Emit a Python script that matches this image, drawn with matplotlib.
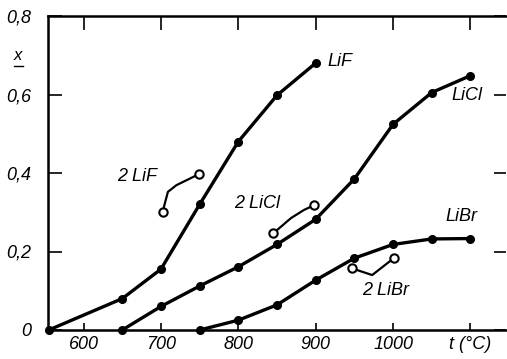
import matplotlib
matplotlib.use("Agg")
import matplotlib.pyplot as plt

# main curves (t in degC, x)
t_lif = [555, 650, 700, 750, 800, 850, 900]
x_lif = [0.0, 0.08, 0.155, 0.32, 0.48, 0.598, 0.68]

t_licl = [650, 700, 750, 800, 850, 900, 950, 1000, 1050, 1100]
x_licl = [0.0, 0.06, 0.112, 0.161, 0.218, 0.282, 0.385, 0.524, 0.605, 0.648]

t_libr = [750, 800, 850, 900, 950, 1000, 1050, 1100]
x_libr = [0.0, 0.025, 0.064, 0.127, 0.183, 0.218, 0.232, 0.233]

# "2 LiX" short curves
t_2lif = [702, 709, 720, 749]
x_2lif = [0.300, 0.352, 0.369, 0.397]
t_2licl = [845, 868, 885, 898]
x_2licl = [0.246, 0.285, 0.306, 0.318]
t_2libr = [947, 973, 1001]
x_2libr = [0.157, 0.140, 0.183]

xticks = [600, 700, 800, 900, 1000, 1100]
xticklabels = ["600", "700", "800", "900", "1000", "t (°C)"]
yticks = [0, 0.2, 0.4, 0.6, 0.8]
yticklabels = ["0", "0,2", "0,4", "0,6", "0,8"]

plt.rcParams['font.family'] = ['Liberation Sans', 'DejaVu Sans']
plt.rcParams['font.style'] = 'italic'

fig = plt.figure(figsize=(5.07, 3.59), dpi=100)
ax = fig.add_axes([48/507, 29/359, 458/507, 314/359])

for t, x in [(t_lif, x_lif), (t_licl, x_licl), (t_libr, x_libr)]:
    ax.plot(t, x, color='black', lw=2.4, marker='o', ms=5.5, clip_on=False,
            solid_capstyle='round')

for t, x in [(t_2lif, x_2lif), (t_2licl, x_2licl), (t_2libr, x_2libr)]:
    ax.plot(t, x, color='black', lw=1.6)
    ax.plot([t[0], t[-1]], [x[0], x[-1]], ls='none', marker='o', ms=6,
            mfc='white', mec='black', mew=1.5)

fs = 13
ax.text(915, 0.683, "LiF", fontsize=fs, va='center')
ax.text(1076, 0.598, "LiCl", fontsize=fs, va='center')
ax.text(1068, 0.29, "LiBr", fontsize=fs, va='center')
ax.text(643, 0.39, "2 LiF", fontsize=fs, va='center')
ax.text(795, 0.323, "2 LiCl", fontsize=fs, va='center')
ax.text(960, 0.10, "2 LiBr", fontsize=fs, va='center')

ax.set_xlim(554, 1146)
ax.set_ylim(0, 0.8)
ax.set_xticks(xticks)
ax.set_xticklabels(xticklabels, fontsize=fs)
ax.set_yticks(yticks)
ax.set_yticklabels(yticklabels, fontsize=fs)
ax.tick_params(axis='x', direction='in', length=5, width=1.2, top=True, pad=4)
ax.tick_params(axis='x', which='major', top=True)
ax.tick_params(axis='y', direction='in', length=10, width=1.2, right=True, pad=12)
ax.xaxis.set_tick_params(which='major', length=5)
for tl in ax.xaxis.get_major_ticks():
    tl.tick2line.set_markersize(10)
for tl in ax.yaxis.get_major_ticks():
    tl.tick2line.set_markersize(9)

for s in ['left', 'bottom', 'top']:
    ax.spines[s].set_linewidth(1.8)
ax.spines['right'].set_visible(False)

# underlined x label
fig.text(18/507, 1 - 55/359, "x", fontsize=12, ha='center', va='center')
fig.add_artist(plt.Line2D([14/507, 23/507], [1 - 66/359, 1 - 66/359],
                          color='black', lw=1.0))

fig.savefig("out.png", dpi=100)
